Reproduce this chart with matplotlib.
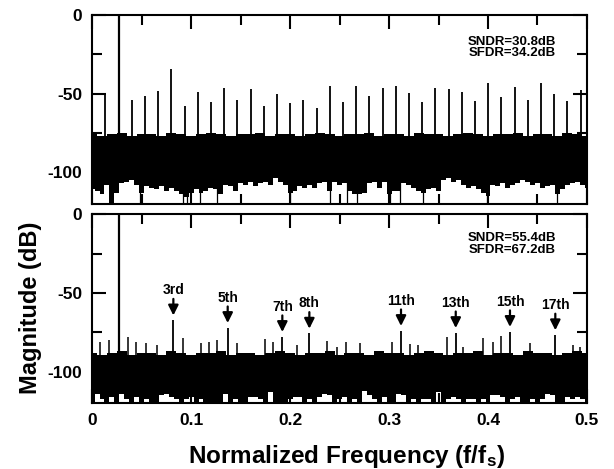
import numpy as np
import matplotlib
matplotlib.use("Agg")
import matplotlib.pyplot as plt
from matplotlib.ticker import MultipleLocator

plt.rcParams['font.family'] = ['Liberation Sans', 'DejaVu Sans']
plt.rcParams['font.weight'] = 'bold'
plt.rcParams['mathtext.fontset'] = 'custom'
plt.rcParams['mathtext.bf'] = 'Liberation Sans:bold'
plt.rcParams['mathtext.rm'] = 'Liberation Sans:bold'
plt.rcParams['mathtext.default'] = 'bf'

# ---- spectrum data (dB) ----
f_half = 0.01334          # first spur (half of tone frequency)
f_tone = 0.02668          # input tone
dc_level = -50.0          # level of the spur below the tone (top plot)

# top plot: spurs at multiples of f_half (orders 3..37)
top_spur_freq = [0.0400, 0.0534, 0.0667, 0.0800, 0.0934, 0.1067, 0.1201, 0.1334,
                 0.1467, 0.1601, 0.1734, 0.1868, 0.2001, 0.2134, 0.2268, 0.2401,
                 0.2535, 0.2668, 0.2801, 0.2935, 0.3068, 0.3202, 0.3335, 0.3468,
                 0.3602, 0.3735, 0.3869, 0.4002, 0.4135, 0.4269, 0.4402, 0.4536,
                 0.4669, 0.4802, 0.4936]
top_spur_db = [-53.8, -51.5, -48.3, -34.2, -57.9, -48.9, -55.3, -46.2, -54.2, -47.2,
               -58.1, -50.4, -56.2, -54.2, -59.2, -45.3, -55.1, -45.5, -51.3, -46.6,
               -45.1, -49.6, -55.3, -46.2, -47.2, -48.9, -54.9, -43.2, -52.5, -45.7,
               -53.8, -43.2, -50.0, -54.7, -47.9]

# noise floor envelopes, top plot
top_floor_hi = [-76, -77, -76, -75, -77, -76, -76, -77, -75, -76, -77, -76, -75,
                -76, -77, -76, -76, -75, -77, -76, -76, -77, -76, -75, -76, -77,
                -76, -76, -75, -77, -76, -76, -77, -75, -76, -76, -77, -76, -75,
                -76, -77, -76, -76, -75, -77, -76, -76, -77, -75, -76, -77]
top_floor_lo = [-111, -112, -114, -108, -120, -113, -107, -106, -105, -108, -113,
                -109, -110, -111, -109, -112, -110, -112, -114, -116, -113, -111,
                -113, -112, -110, -111, -114, -108, -109, -112, -107, -108, -106,
                -109, -107, -106, -108, -104, -106, -108, -113, -112, -109, -110,
                -108, -110, -107, -106, -112, -106, -108, -107, -112, -114, -114,
                -113, -107, -106, -110, -106, -114, -112, -112, -107, -108, -110,
                -112, -113, -111, -110, -112, -105, -104, -106, -105, -108, -110,
                -109, -111, -113, -115, -108, -109, -107, -110, -108, -107, -105,
                -106, -108, -107, -110, -109, -108, -114, -111, -108, -107, -106,
                -108, -110]
# thin noise lines reaching the bottom of the top plot
top_dips = [0.0189, 0.0485, 0.0919, 0.0956, 0.1091, 0.1259, 0.2000, 0.2404,
            0.2572, 0.2673, 0.3010, 0.3111, 0.3347, 0.3987, 0.4694]

# bottom plot: labelled harmonics
harm_names = ['3rd', '5th', '7th', '8th', '11th', '13th', '15th', '17th']
harm_freq = [0.0821, 0.1370, 0.1922, 0.2195, 0.3121, 0.3674, 0.4222, 0.4680]
harm_db = [-67.2, -72.0, -77.7, -75.6, -73.9, -75.2, -74.5, -76.6]

# bottom plot: small unlabelled spurs
small_freq = [0.0081, 0.0175, 0.0367, 0.0441, 0.0545, 0.0653, 0.0916, 0.1098,
              0.1180, 0.1260, 0.1460, 0.1747, 0.1830, 0.2067, 0.2370, 0.2470,
              0.2570, 0.2707, 0.3027, 0.3212, 0.3296, 0.3582, 0.3750, 0.3953,
              0.4054, 0.4128, 0.4424, 0.4860, 0.4930]
small_db = [-81.3, -79.8, -77.7, -81.0, -82.0, -83.0, -78.4, -82.0, -81.3, -80.0,
            -81.5, -79.3, -81.0, -83.0, -80.5, -84.0, -81.0, -82.0, -81.0, -82.5,
            -83.0, -77.7, -84.0, -78.4, -81.0, -77.0, -82.0, -83.0, -84.0]

bot_floor_hi = [-88, -89, -88, -87, -89, -88, -88, -89, -87, -88, -89, -88, -88,
                -87, -89, -88, -88, -89, -88, -87, -88, -89, -88, -88, -87, -89,
                -88, -88, -89, -87, -88, -88, -89, -88, -87, -88, -89, -88, -88,
                -87, -89, -88, -88, -89, -87, -88, -88, -89, -88, -87, -88]
bot_floor_lo = [-120, -114, -117, -120, -116, -120, -114, -117, -120, -116, -120,
                -117, -120, -120, -115, -114, -116, -117, -120, -117, -116, -120,
                -117, -120, -120, -120, -120, -114, -120, -117, -120, -120, -116,
                -116, -117, -120, -113, -120, -120, -120, -117, -116, -116, -120,
                -117, -120, -116, -114, -115, -120, -117, -116, -120, -117, -120,
                -112, -115, -117, -120, -116, -120, -120, -114, -115, -120, -117,
                -120, -117, -117, -120, -113, -120, -117, -116, -117, -120, -117,
                -117, -120, -117, -120, -115, -115, -116, -120, -117, -116, -120,
                -120, -117, -120, -117, -114, -115, -120, -120, -116, -117, -116,
                -117, -120]

top_metrics = 'SNDR=30.8dB\nSFDR=34.2dB'
bot_metrics = 'SNDR=55.4dB\nSFDR=67.2dB'


def draw_floor(ax, hi, lo):
    fh = np.linspace(0, 0.5, len(hi))
    fl = np.linspace(0, 0.5, len(lo))
    ax.fill_between(fh, -100, hi, step='mid', color='k', lw=0)
    ax.fill_between(fl, lo, -95, step='mid', color='k', lw=0)


def style_axes(ax):
    ax.set_xlim(0, 0.5)
    ax.set_ylim(-120, 0)
    ax.xaxis.set_major_locator(MultipleLocator(0.1))
    ax.xaxis.set_minor_locator(MultipleLocator(0.05))
    ax.yaxis.set_major_locator(MultipleLocator(50))
    ax.yaxis.set_minor_locator(MultipleLocator(25))
    ax.tick_params(which='both', direction='in', top=True, right=True,
                   width=1.5, labelsize=12.5, pad=7)
    ax.tick_params(which='major', length=10)
    ax.tick_params(which='minor', length=7)
    for s in ax.spines.values():
        s.set_linewidth(1.5)
    ax.set_yticks([0, -50, -100])
    ax.set_yticklabels(['0', '-50', '-100'])


fig = plt.figure(figsize=(6.14, 4.69), dpi=100)
ax1 = fig.add_axes([0.150, 0.566, 0.806, 0.402])
ax2 = fig.add_axes([0.150, 0.140, 0.806, 0.403])

# top spectrum
draw_floor(ax1, top_floor_hi, top_floor_lo)
ax1.vlines(top_dips, -120, -100, color='k', lw=0.9)
ax1.vlines(top_spur_freq, -78, top_spur_db, color='k', lw=1.3)
ax1.vlines([f_tone], -78, 0, color='k', lw=1.6)
ax1.plot([0, f_half, f_half], [dc_level, dc_level, -78], color='k', lw=1.3)
ax1.text(0.424, -20.7, top_metrics, ha='center', va='center', fontsize=9.5,
         linespacing=0.95)
style_axes(ax1)
ax1.set_xticklabels([])

# bottom spectrum
draw_floor(ax2, bot_floor_hi, bot_floor_lo)
ax2.vlines(small_freq, -90, small_db, color='k', lw=1.1)
ax2.vlines(harm_freq, -90, harm_db, color='k', lw=1.3)
ax2.vlines([f_tone], -90, 0, color='k', lw=1.6)
for name, f, db in zip(harm_names, harm_freq, harm_db):
    ax2.annotate('', xy=(f, db + 3), xytext=(f, db + 13.5),
                 arrowprops=dict(arrowstyle='-|>', color='k', lw=1.6,
                                 mutation_scale=15, shrinkA=0, shrinkB=0))
    ax2.text(f, db + 19, name, ha='center', va='center', fontsize=10)
ax2.text(0.424, -19, bot_metrics, ha='center', va='center', fontsize=9.5,
         linespacing=0.95)
style_axes(ax2)
ax2.set_xticks([0, 0.1, 0.2, 0.3, 0.4, 0.5])
ax2.set_xticklabels(['0', '0.1', '0.2', '0.3', '0.4', '0.5'])

fig.text(0.565, 0.0128, r'Normalized Frequency (f/f$_s$)', ha='center',
         va='baseline', fontsize=17.5, fontweight='bold')
fig.text(0.049, 0.343, 'Magnitude (dB)', rotation=90, ha='center', va='center',
         fontsize=17, fontweight='bold')

fig.savefig('out.png', dpi=100)
